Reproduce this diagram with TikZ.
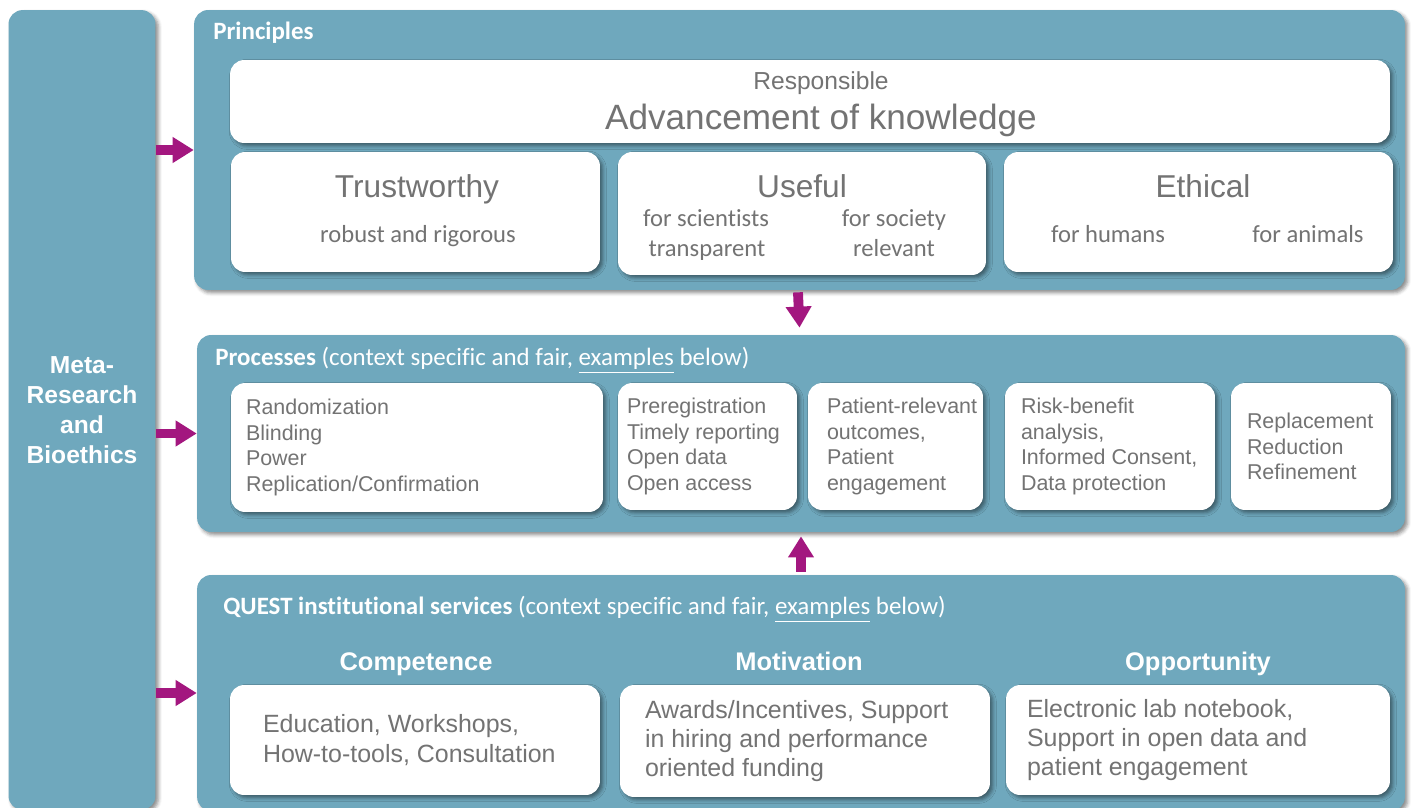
\documentclass[tikz,border=0pt]{standalone}
\usepackage{fontspec}
\setmainfont{Liberation Sans}
\newfontfamily\calibri[Ligatures={CommonOff,ContextualOff}]{Carlito}
\usetikzlibrary{positioning,arrows.meta,shadows.blur}

\definecolor{tealpanel}{HTML}{6FA8BD}
\definecolor{cardgray}{HTML}{737373}
\definecolor{arrowmag}{HTML}{A3177F}

\tikzset{
    panel/.style={fill=tealpanel, rounded corners=8pt,
        blur shadow={shadow xshift=1.6pt, shadow yshift=-1.6pt, shadow blur radius=2pt, shadow opacity=45}},
    card/.style={fill=white, rounded corners=8pt,
        blur shadow={shadow xshift=1.6pt, shadow yshift=-1.6pt, shadow blur radius=2pt, shadow opacity=45}},
    oneline/.style={inner sep=0pt, text height=0.95em, text depth=0.1em},
    paneltitle/.style={oneline, text=white, anchor=west, font=\calibri\fontsize{14.2}{17}\selectfont},
    colhead/.style={oneline, text=white, font=\bfseries\fontsize{14.5}{17}\selectfont},
    bigword/.style={oneline, text=cardgray, font=\fontsize{18}{21}\selectfont},
    smallword/.style={oneline, text=cardgray, font=\calibri\fontsize{14}{17}\selectfont},
    proctext/.style={text=cardgray, inner sep=0pt, align=left, font=\fontsize{12.2}{14.7}\selectfont},
    servtext/.style={text=cardgray, inner sep=0pt, align=left, font=\fontsize{14.2}{16.7}\selectfont},
    fatarrow/.style={arrowmag, line width=5.6pt, -{Triangle[width=14pt,length=12pt]}},
}

\begin{document}
\begin{tikzpicture}[x=0.02cm, y=-0.02cm]

    % Page of the same size as the reference
    \useasboundingbox (0,0) rectangle (1411,808);

    % Left column
    \node[panel, minimum width=2.94cm, minimum height=16cm, text=white, align=center,
          font=\bfseries\fontsize{14}{17}\selectfont] (meta) at (82,410) {Meta-\\Research\\and\\Bioethics};

    % Principles panel
    \node[panel, minimum width=24.22cm, minimum height=5.6cm] (princ) at (799.5,150) {};
    \node[paneltitle] (princtitle) at (213,32) {\textbf{Principles}};

    \node[card, minimum width=23.2cm, minimum height=1.66cm] (resp) at (810,101.5) {};
    \node[oneline, text=cardgray, font=\fontsize{14}{17}\selectfont] (respsmall) at (821,82) {Responsible};
    \node[oneline, text=cardgray, font=\fontsize{20}{24}\selectfont] (respbig) at (821,122) {Advancement of knowledge};

    % Trustworthy
    \node[card, minimum width=7.38cm, minimum height=2.4cm] (trust) at (415.5,212) {};
    \node[bigword] (trusttitle) at (417,190) {Trustworthy};
    \node[smallword] (trustsub) at (418,235) {robust and rigorous};

    % Useful
    \node[card, minimum width=7.36cm, minimum height=2.46cm] (useful) at (802,213.5) {};
    \node[bigword] (usefultitle) at (802,190) {Useful};
    \node[smallword] (sci) at (706,219) {for scientists};
    \node[smallword] (transp) at (707,249) {transparent};
    \node[smallword] (soc) at (894,219) {for society};
    \node[smallword] (relev) at (894,249) {relevant};

    % Ethical
    \node[card, minimum width=7.78cm, minimum height=2.4cm] (ethic) at (1198.5,212) {};
    \node[bigword] (ethictitle) at (1203,190) {Ethical};
    \node[smallword] (humans) at (1108,235) {for humans};
    \node[smallword] (animals) at (1308,235) {for animals};

    % Processes panel
    \node[panel, minimum width=24.16cm, minimum height=3.94cm] (proc) at (801,433.5) {};
    \node[paneltitle] (proctitle) at (215,358) {\textbf{Processes} (context specific and fair, \underline{examples} below)};

    \node[card, minimum width=7.44cm, minimum height=2.58cm] (p1) at (417,447.5) {};
    \node[proctext, right=0.3cm of p1.west] (p1text) {Randomization\\Blinding\\Power\\Replication/Confirmation};

    \node[card, minimum width=3.58cm, minimum height=2.54cm] (p2) at (707.5,446.5) {};
    \node[proctext, right=0.18cm of p2.west] (p2text) {Preregistration\\Timely reporting\\Open data\\Open access};

    \node[card, minimum width=3.5cm, minimum height=2.54cm] (p3) at (895.5,446.5) {};
    \node[proctext, right=0.38cm of p3.west] (p3text) {Patient-relevant\\outcomes,\\Patient\\engagement};

    \node[card, minimum width=4.2cm, minimum height=2.54cm] (p4) at (1110,446.5) {};
    \node[proctext, right=0.32cm of p4.west] (p4text) {Risk-benefit\\analysis,\\Informed Consent,\\Data protection};

    \node[card, minimum width=3.2cm, minimum height=2.54cm] (p5) at (1311,446.5) {};
    \node[proctext, right=0.32cm of p5.west] (p5text) {Replacement\\Reduction\\Refinement};

    % QUEST panel
    \node[panel, minimum width=24.16cm, minimum height=4.72cm] (quest) at (801,693) {};
    \node[paneltitle] (questtitle) at (223,607) {\textbf{QUEST institutional services} (context specific and fair, \underline{examples} below)};

    \node[colhead] (comphead) at (416,663) {Competence};
    \node[colhead] (motihead) at (799,663) {Motivation};
    \node[colhead] (oppohead) at (1198,663) {Opportunity};

    \node[card, minimum width=7.4cm, minimum height=2.2cm] (s1) at (415,740) {};
    \node[servtext, right=0.66cm of s1.west] (s1text) {Education, Workshops,\\How-to-tools, Consultation};

    \node[card, minimum width=7.4cm, minimum height=2.24cm] (s2) at (805,741) {};
    \node[servtext, right=0.5cm of s2.west] (s2text) {Awards/Incentives, Support\\in hiring and performance\\oriented funding};

    \node[card, minimum width=7.68cm, minimum height=2.2cm] (s3) at (1198,740) {};
    \node[servtext, right=0.42cm of s3.west] (s3text) {Electronic lab notebook,\\Support in open data and\\patient engagement};

    % Arrows from the left column
    \draw[fatarrow] (meta.east |- princ.west) -- (princ.west);
    \draw[fatarrow] (meta.east |- proc.west) -- (proc.west);
    \draw[fatarrow] (meta.east |- quest.west) -- (quest.west);

    % Arrows between the panels
    \draw[fatarrow] ([xshift=-0.03cm, yshift=-0.04cm]princ.south) -- ([yshift=0.14cm]princ.south |- proc.north);
    \draw[fatarrow] ([yshift=0.06cm]quest.north) -- ([yshift=-0.08cm]quest.north |- proc.south);

\end{tikzpicture}
\end{document}
